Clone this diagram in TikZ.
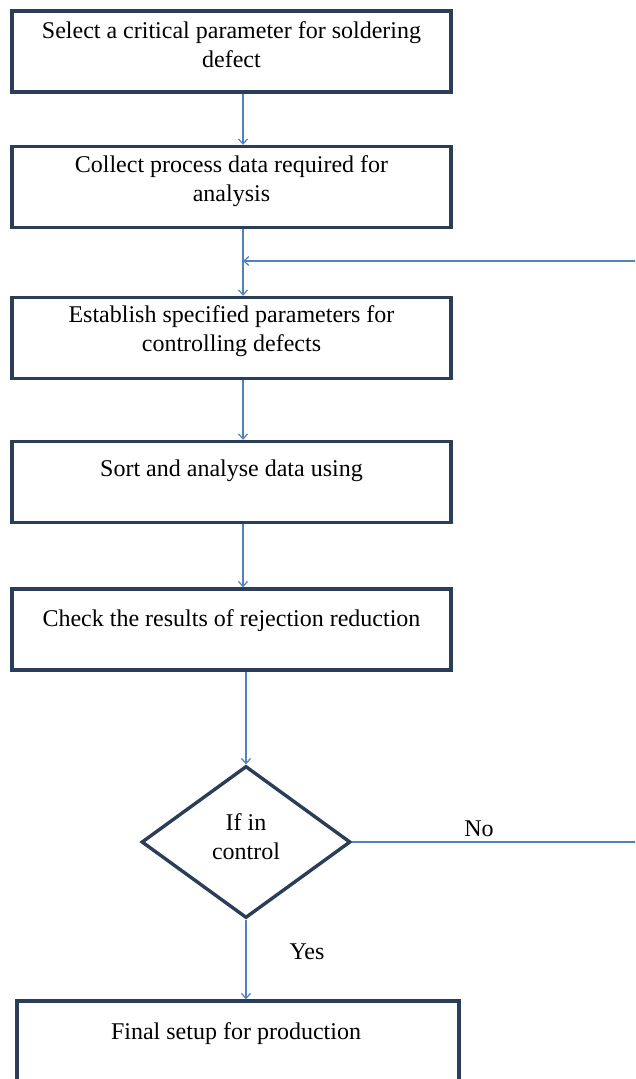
\documentclass[tikz,border=0pt]{standalone}
\usepackage{fontspec}
\setmainfont{Liberation Serif}
\usetikzlibrary{arrows.meta,shapes.geometric,positioning}
\definecolor{boxline}{HTML}{2A3F57}
\definecolor{flowline}{HTML}{5082C0}

\begin{document}
\begin{tikzpicture}[x=1pt,y=-1pt,>={Straight Barb[length=5pt,width=9pt]},
    stepbox/.style={rectangle,draw=boxline,line width=3.4pt,minimum width=439pt,minimum height=81pt,inner sep=0pt},
    steptext/.style={align=center,font=\fontsize{24}{29}\selectfont,inner sep=0pt},
    decision/.style={diamond,draw=boxline,line width=3.4pt,minimum width=209pt,minimum height=152pt,inner sep=0pt},
    flow/.style={->,draw=flowline,line width=1.2pt}]
    \path[use as bounding box] (0,0) rectangle (635,1079);
    \clip (0,0) rectangle (635,1079);
    % boxes
    \node[stepbox] (select) at (231.5,51.5) {};
    \node[stepbox] (collect) at (231.5,187) {};
    \node[stepbox] (establish) at (231.5,338) {};
    \node[stepbox] (sort) at (231.5,482) {};
    \node[stepbox] (check) at (231.5,629.5) {};
    \node[decision] (decide) at (246,842) {};
    \node[stepbox,minimum width=442pt] (final) at (238,1041.5) {};
    % texts
    \node[steptext] (selecttext) at (231.5,45) {Select a critical parameter for soldering\\defect};
    \node[steptext] (collecttext) at (231.5,181) {Collect process data required for\\analysis};
    \node[steptext] (establishtext) at (231.5,331) {Establish specified parameters for\\controlling defects};
    \node[steptext] (sorttext) at (231.5,471) {Sort and analyse data using};
    \node[steptext] (checktext) at (231.5,621) {Check the results of rejection reduction};
    \node[steptext] (decidetext) at (246,837) {If in\\control};
    \node[steptext] (finaltext) at (236,1034) {Final setup for production};
    \node[steptext] (nolabel) at (479,829) {No};
    \node[steptext] (yeslabel) at (307,952) {Yes};
    % connectors
    \coordinate (spine) at (243,0);
    \coordinate (loopx) at (660,0);
    \coordinate (rejoin) at (243,261);
    \draw[flow] (select.south -| spine) -- (collect.north -| spine);
    \draw[flow] (collect.south -| spine) -- (establish.north -| spine);
    \draw[flow] (establish.south -| spine) -- (sort.north -| spine);
    \draw[flow] (sort.south -| spine) -- (check.north -| spine);
    \draw[flow] (check.south -| decide.north) -- (decide.north);
    \draw[flow] (decide.south) -- (final.north -| decide.south);
    \draw[flow] (decide.east) -- (decide.east -| loopx) |- (rejoin);
\end{tikzpicture}
\end{document}
